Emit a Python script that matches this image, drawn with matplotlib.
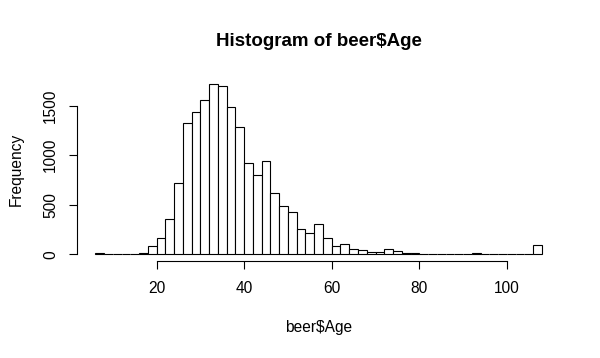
import numpy as np
import matplotlib
matplotlib.use('Agg')
import matplotlib.pyplot as plt

plt.rcParams['font.family'] = ['Liberation Sans', 'DejaVu Sans']

# Histogram of beer$Age - bins of width 2 from 6 to 108
bin_start = list(range(6, 108, 2))
counts = [8, 0, 0, 5, 0, 12, 87, 165, 353, 723,
          1325, 1440, 1557, 1715, 1702, 1490, 1288, 918, 804, 942,
          616, 484, 424, 252, 212, 303, 161, 87, 101, 57,
          40, 27, 20, 50, 34, 8, 8, 0, 0, 0,
          0, 0, 0, 8, 0, 0, 0, 0, 0, 0,
          94]
bin_width = 2
x_ticks = [20, 40, 60, 80, 100]
y_ticks = [0, 500, 1000, 1500]

fig = plt.figure(figsize=(6, 3.58), dpi=100)
ax = fig.add_axes([0.129, 0.2707, 0.804, 0.5128])

ax.bar(bin_start, counts, width=bin_width, align='edge',
       color='white', edgecolor='black', linewidth=0.8)

# R style axis extension (4%)
lo, hi = bin_start[0], bin_start[-1] + bin_width
pad = (hi - lo) * 0.04
ax.set_xlim(lo - pad, hi + pad)
ymax = max(counts)
ax.set_ylim(-ymax * 0.04, ymax * 1.04)

for s in ['top', 'right']:
    ax.spines[s].set_visible(False)
ax.spines['bottom'].set_bounds(x_ticks[0], x_ticks[-1])
ax.spines['left'].set_bounds(y_ticks[0], y_ticks[-1])
ax.spines['bottom'].set_linewidth(0.8)
ax.spines['left'].set_linewidth(0.8)

ax.set_xticks(x_ticks)
ax.set_yticks(y_ticks)
ax.set_yticklabels([str(v) for v in y_ticks], rotation=90, va='center')
ax.tick_params(axis='both', length=6, width=0.8, labelsize=11.2, pad=8)

ax.set_xlabel('beer$Age', fontsize=11.2, labelpad=17.5)
ax.set_ylabel('Frequency', fontsize=11.2, labelpad=14)
ax.set_title('Histogram of beer$Age', fontsize=13.5, fontweight='bold', pad=23)

plt.savefig('out.png', dpi=100)
